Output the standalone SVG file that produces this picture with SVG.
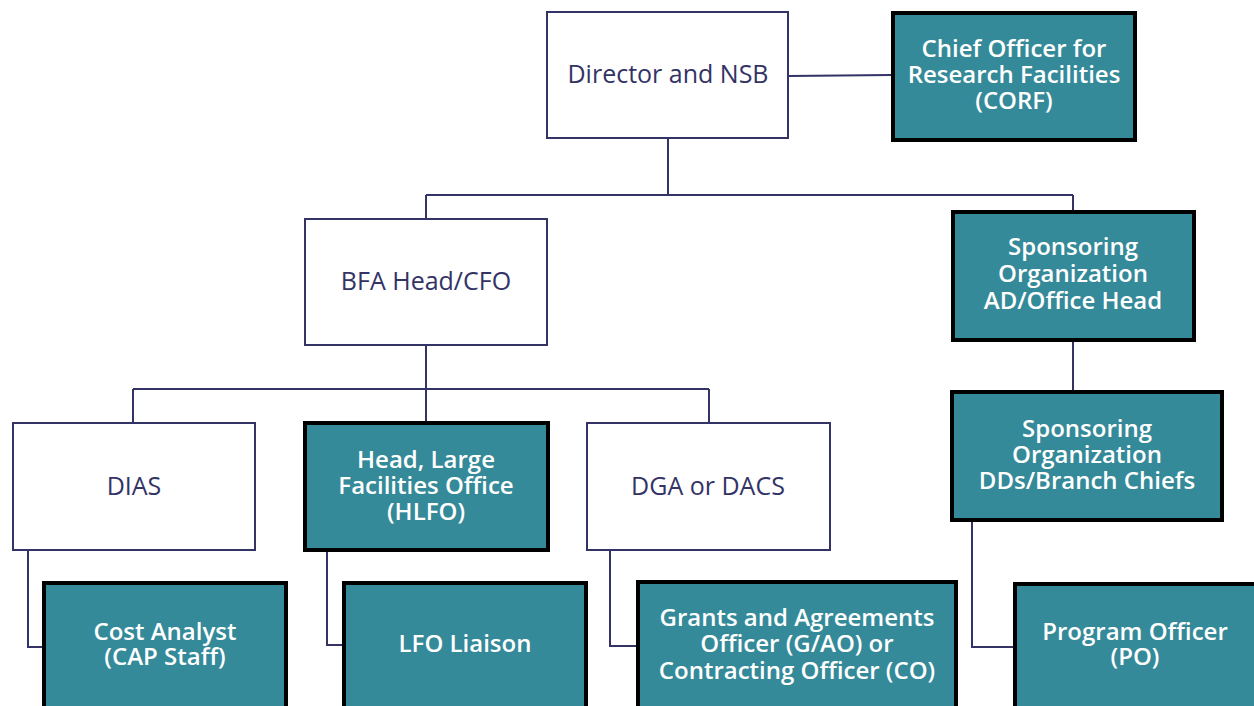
<svg xmlns="http://www.w3.org/2000/svg" width="1254" height="706" viewBox="0 0 1254 706">
<style>
.w{fill:#ffffff;stroke:#333366;stroke-width:2}
.t{fill:#358a99;stroke:#000000;stroke-width:4}
.lw{font-family:"Open Sans","Noto Sans","DejaVu Sans",sans-serif;font-size:25px;fill:#333366;text-anchor:middle}
.lt{font-family:"Open Sans","Noto Sans","DejaVu Sans",sans-serif;font-size:24px;font-weight:600;fill:#ffffff;text-anchor:middle}
.c{fill:none;stroke:#333366;stroke-width:2}
</style>
<rect width="1254" height="706" fill="#ffffff"/>
<g id="connectors">
<path class="c" d="M789,76 L891,75"/>
<path class="c" d="M668,139 V195 M426,195 H1073 M426,195 V218 M1073,195 V210"/>
<path class="c" d="M1073,342 V390"/>
<path class="c" d="M426,346 V389 M133,389 H709 M133,389 V422 M426,389 V421 M709,389 V422"/>
<path class="c" d="M28,551 V647 H42"/>
<path class="c" d="M327,552 V645 H342"/>
<path class="c" d="M610,551 V646 H636"/>
<path class="c" d="M972,522 V647 H1013"/>
</g>
<g id="director"><rect class="w" x="547" y="12" width="241" height="126"/><text class="lw" x="668" y="83">Director and NSB</text></g>
<g id="corf"><rect class="t" x="893" y="13" width="242" height="127"/><text class="lt"><tspan x="1014" y="57">Chief Officer for</tspan><tspan x="1014" y="83">Research Facilities</tspan><tspan x="1014" y="109">(CORF)</tspan></text></g>
<g id="bfa"><rect class="w" x="305" y="219" width="242" height="126"/><text class="lw" x="426" y="290">BFA Head/CFO</text></g>
<g id="sponsor-ad"><rect class="t" x="953" y="212" width="241" height="128"/><text class="lt"><tspan x="1073" y="255">Sponsoring</tspan><tspan x="1073" y="282">Organization</tspan><tspan x="1073" y="309">AD/Office Head</tspan></text></g>
<g id="sponsor-dd"><rect class="t" x="952" y="392" width="270" height="128"/><text class="lt"><tspan x="1087" y="437">Sponsoring</tspan><tspan x="1087" y="463">Organization</tspan><tspan x="1087" y="489">DDs/Branch Chiefs</tspan></text></g>
<g id="dias"><rect class="w" x="13" y="423" width="242" height="127"/><text class="lw" x="134" y="495">DIAS</text></g>
<g id="hlfo"><rect class="t" x="305" y="423" width="243" height="127"/><text class="lt"><tspan x="426" y="468">Head, Large</tspan><tspan x="426" y="494">Facilities Office</tspan><tspan x="426" y="520">(HLFO)</tspan></text></g>
<g id="dga"><rect class="w" x="587" y="423" width="243" height="127"/><text class="lw" x="708" y="495">DGA or DACS</text></g>
<g id="cost"><rect class="t" x="44" y="583" width="242" height="140"/><text class="lt"><tspan x="165" y="640">Cost Analyst</tspan><tspan x="165" y="665">(CAP Staff)</tspan></text></g>
<g id="lfo"><rect class="t" x="344" y="583" width="242" height="140"/><text class="lt" x="465" y="652">LFO Liaison</text></g>
<g id="gao"><rect class="t" x="638" y="582" width="318" height="140"/><text class="lt"><tspan x="797" y="626">Grants and Agreements</tspan><tspan x="797" y="652">Officer (G/AO) or</tspan><tspan x="797" y="679">Contracting Officer (CO)</tspan></text></g>
<g id="po"><rect class="t" x="1015" y="584" width="242" height="140"/><text class="lt"><tspan x="1135" y="640">Program Officer</tspan><tspan x="1135" y="665">(PO)</tspan></text></g>
</svg>
